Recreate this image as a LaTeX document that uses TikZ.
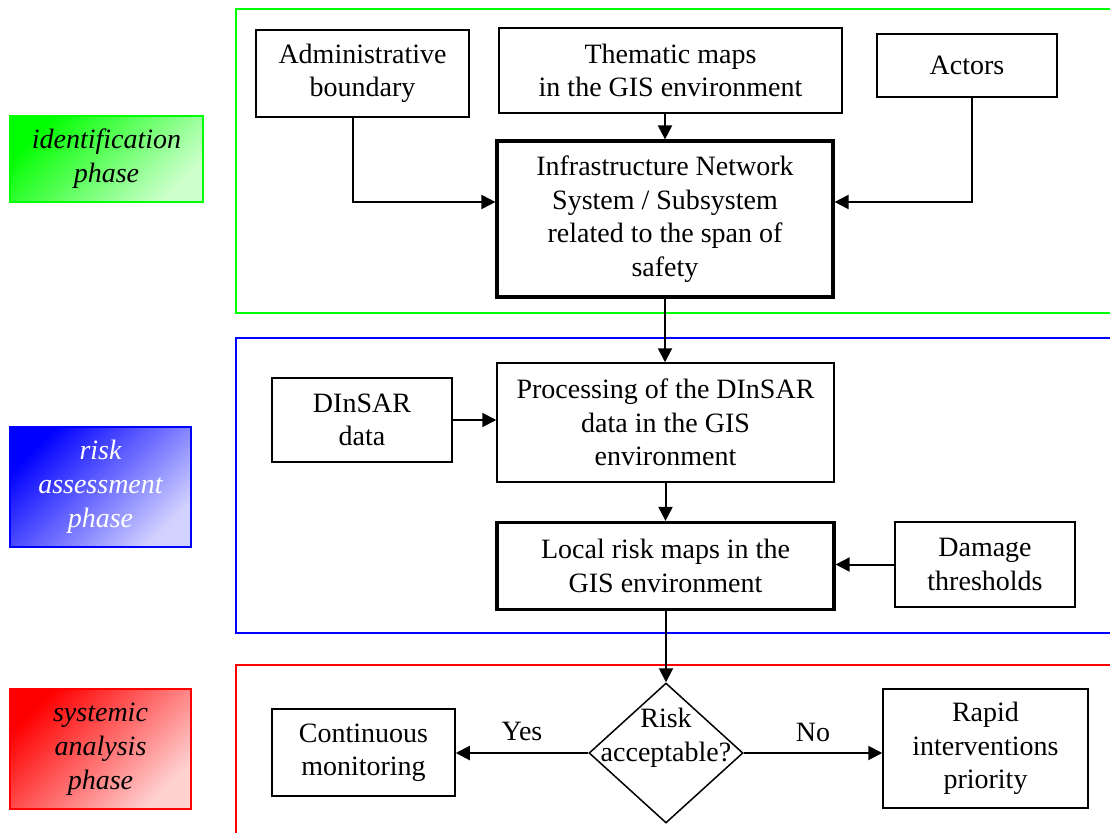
\documentclass[tikz,border=0pt]{standalone}
\usepackage{fontspec}
\setmainfont{Liberation Serif}
\usetikzlibrary{arrows.meta,shapes.geometric,calc}
\definecolor{pgreen}{RGB}{0,255,0}
\definecolor{pgreenl}{RGB}{205,255,205}
\definecolor{pblue}{RGB}{0,0,255}
\definecolor{pbluel}{RGB}{210,210,255}
\definecolor{pred}{RGB}{255,0,0}
\definecolor{predl}{RGB}{255,210,210}
\begin{document}
\begin{tikzpicture}[x=1pt,y=-1pt,
  every node/.style={font=\fontsize{28}{33.5}\selectfont, align=center, inner sep=0pt},
  box/.style={draw, line width=1.5pt},
  thickbox/.style={draw, line width=3.2pt},
  phasebox/.style={line width=2pt, font=\fontsize{28}{34}\selectfont\itshape},
  frame/.style={line width=1.6pt},
  arr/.style={line width=2pt, -{Triangle[length=14pt,width=14pt]}}]
\useasboundingbox (0,0) rectangle (1110,832);

% phase frames
\draw[frame, pgreen] (1112,9) -- (236,9) -- (236,313) -- (1112,313);
\draw[frame, pblue] (1112,338) -- (236,338) -- (236,633) -- (1112,633);
\draw[frame, pred] (1112,665) -- (236,665) -- (236,834);

% phase labels
\node[phasebox, draw=pgreen, top color=pgreen, bottom color=pgreenl, shading angle=45,
      minimum width=193pt, minimum height=86pt] (ph1) at (106.5,159) {identification\\phase};
\node[phasebox, draw=pblue, top color=pblue, bottom color=pbluel, shading angle=45, text=white,
      minimum width=181pt, minimum height=120pt] (ph2) at (100.5,487) {risk\\assessment\\phase};
\node[phasebox, draw=pred, top color=pred, bottom color=predl, shading angle=45,
      minimum width=181pt, minimum height=120pt] (ph3) at (100.5,749) {systemic\\analysis\\phase};

% identification phase
\node[box, minimum width=213pt, minimum height=87pt] (admin) at (362.5,73.5) {Administrative\\boundary};
\node[box, minimum width=343pt, minimum height=85pt] (them) at (670.5,70.5) {Thematic maps\\in the GIS environment};
\node[box, minimum width=180pt, minimum height=63pt] (actors) at (967,65.5) {Actors};
\node[thickbox, minimum width=336pt, minimum height=156pt] (infra) at (665,219)
  {Infrastructure Network\\System / Subsystem\\related to the span of\\safety};

% risk assessment phase
\node[box, minimum width=180pt, minimum height=84pt] (dinsar) at (362,420) {DInSAR\\data};
\node[box, minimum width=337pt, minimum height=119pt] (proc) at (665.5,422.5)
  {Processing of the DInSAR\\data in the GIS\\environment};
\node[thickbox, minimum width=337pt, minimum height=87pt] (local) at (665.5,566)
  {Local risk maps in the\\GIS environment};
\node[box, minimum width=180pt, minimum height=85pt] (damage) at (985,564.5) {Damage\\thresholds};

% systemic analysis phase
\node[draw, diamond, line width=1.5pt, minimum width=154pt, minimum height=140pt] (dia) at (666,753) {};
\node (diatext) at (666,738) {Risk\\acceptable?};
\node[box, minimum width=183pt, minimum height=87pt] (cont) at (363.5,752.5) {Continuous\\monitoring};
\node[box, minimum width=205pt, minimum height=119pt] (rapid) at (985.5,748.5) {Rapid\\interventions\\priority};

% connectors
\draw[arr] ([xshift=-9.5pt]admin.south) |- ([yshift=17pt]infra.west);
\draw[arr] ([xshift=5pt]actors.south) |- ([yshift=17pt]infra.east);
\draw[arr] (infra.north |- them.south) -- (infra.north);
\draw[arr] (infra.south) -- (proc.north -| infra.south);
\draw[arr] (dinsar.east) -- (dinsar.east -| proc.west);
\draw[arr] (proc.south -| local.north) -- (local.north);
\draw[arr] (damage.west) -- (damage.west -| local.east);
\draw[arr] (local.south -| dia.north) -- (dia.north);
\draw[arr] (dia.west) -- (dia.west -| cont.east) node[midway, yshift=21.5pt] (yes) {Yes};
\draw[arr] (dia.east) -- (dia.east -| rapid.west) node[midway, yshift=21pt] (no) {No};
\end{tikzpicture}
\end{document}
